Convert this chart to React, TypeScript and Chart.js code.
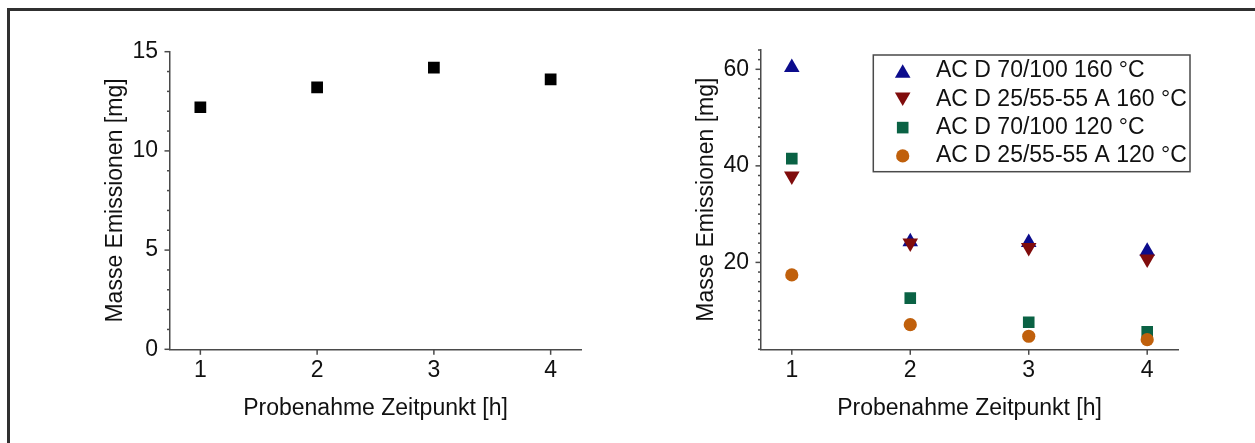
import React, { useEffect, useRef } from 'react';
import { Chart, registerables } from 'chart.js';
import { drawPoint } from 'chart.js/helpers';

Chart.register(...registerables);

// Sampling times [h]
const hours = [1, 2, 3, 4];
const hourTicks = [1, 2, 3, 4];

// Left panel: total emitted mass per sampling time [mg]
const totalMass = [12.2, 13.2, 14.2, 13.6];
const totalMassTicks = [0, 5, 10, 15];

// Right panel: emitted mass per binder / temperature [mg]
const seriesLabels = [
  'AC D 70/100 160 °C',
  'AC D 25/55-55 A 160 °C',
  'AC D 70/100 120 °C',
  'AC D 25/55-55 A 120 °C',
];
const ac70100at160 = [60.4, 24.3, 24.1, 22.3];
const ac2555at160 = [37.9, 24.0, 23.1, 20.7];
const ac70100at120 = [41.5, 12.6, 7.6, 5.6];
const ac2555at120 = [17.4, 7.1, 4.7, 4.0];
const binderMassTicks = [20, 40, 60];

const FONT = '"Liberation Sans", Arial, Helvetica, sans-serif';
const TEXT = '#111111';
const AXIS = '#4a4a4a';
const FONT_SIZE = 23;

Chart.defaults.font.family = FONT;
Chart.defaults.color = TEXT;

const toPoints = (vals: number[]) => hours.map((h, i) => ({ x: h, y: vals[i] }));

// Tick marks drawn outside the axes: long ones at labelled values, short ones between.
const tickMarks = {
  id: 'tickMarks',
  afterDraw(chart: any, _args: any, opts: any) {
    const { ctx, chartArea } = chart;
    const xs = chart.scales.x;
    const ys = chart.scales.y;
    ctx.save();
    ctx.strokeStyle = AXIS;
    ctx.lineWidth = 1.5;
    const step = opts.yMinorStep;
    const start = Math.ceil(ys.min / step - 1e-9) * step;
    for (let v = start; v <= ys.max + 1e-9; v += step) {
      const major = opts.yMajor.some((m: number) => Math.abs(m - v) < 1e-6);
      const len = major ? 5.5 : 3;
      const p = ys.getPixelForValue(v);
      ctx.beginPath();
      ctx.moveTo(chartArea.left - len, p);
      ctx.lineTo(chartArea.left, p);
      ctx.stroke();
    }
    for (const v of opts.xMajor) {
      const p = xs.getPixelForValue(v);
      ctx.beginPath();
      ctx.moveTo(p, chartArea.bottom);
      ctx.lineTo(p, chartArea.bottom + 5.5);
      ctx.stroke();
    }
    ctx.restore();
  },
};

// Framed legend listing each dataset's marker and label.
const boxLegend = {
  id: 'boxLegend',
  afterDraw(chart: any, _args: any, opts: any) {
    if (!opts.show) return;
    const { ctx } = chart;
    ctx.save();
    ctx.strokeStyle = AXIS;
    ctx.lineWidth = 1.5;
    ctx.strokeRect(opts.left, opts.top, opts.width, opts.height);
    chart.data.datasets.forEach((ds: any, i: number) => {
      const y = opts.firstRow + i * opts.rowGap;
      const r = ds.pointRadius;
      let cy = y;
      if (ds.pointStyle === 'triangle') cy = ds.pointRotation ? y - r / 4 : y + r / 4;
      ctx.fillStyle = ds.pointBackgroundColor;
      drawPoint(ctx, { pointStyle: ds.pointStyle, radius: r, rotation: ds.pointRotation || 0, borderWidth: 0 } as any, opts.markerX, cy);
      ctx.fillStyle = TEXT;
      ctx.font = `${FONT_SIZE}px ${FONT}`;
      ctx.textAlign = 'left';
      ctx.textBaseline = 'middle';
      ctx.fillText(ds.label, opts.textX, y);
    });
    ctx.restore();
  },
};

function axes(yMin: number, yMax: number, yTicks: number[], yWidth: number, yTitlePad: number) {
  return {
    x: {
      type: 'linear',
      min: 0.74,
      max: 4.26,
      afterBuildTicks: (s: any) => {
        s.ticks = hourTicks.map((v) => ({ value: v }));
      },
      afterFit: (s: any) => {
        s.height = 93.7;
      },
      grid: { display: false, drawTicks: false },
      border: { display: true, color: AXIS, width: 1.5 },
      ticks: { padding: 8, color: TEXT, font: { size: FONT_SIZE }, maxRotation: 0 },
      title: {
        display: true,
        text: 'Probenahme Zeitpunkt [h]',
        color: TEXT,
        font: { size: FONT_SIZE },
        padding: { top: 0, bottom: 21 },
      },
    },
    y: {
      type: 'linear',
      min: yMin,
      max: yMax,
      afterBuildTicks: (s: any) => {
        s.ticks = yTicks.map((v) => ({ value: v }));
      },
      afterFit: (s: any) => {
        s.width = yWidth;
      },
      grid: { display: false, drawTicks: false },
      border: { display: true, color: AXIS, width: 1.5 },
      ticks: { padding: 12, color: TEXT, font: { size: FONT_SIZE } },
      title: {
        display: true,
        text: 'Masse Emissionen [mg]',
        color: TEXT,
        font: { size: FONT_SIZE },
        padding: { top: yTitlePad, bottom: 0 },
      },
    },
  };
}

export default function App() {
  const leftRef = useRef<HTMLCanvasElement>(null);
  const rightRef = useRef<HTMLCanvasElement>(null);

  useEffect(() => {
    const left = new Chart(leftRef.current as HTMLCanvasElement, {
      type: 'scatter',
      data: {
        datasets: [
          {
            label: 'Masse Emissionen',
            data: toPoints(totalMass),
            pointStyle: 'rect',
            pointRadius: 8.3,
            pointBackgroundColor: '#000000',
            pointBorderWidth: 0,
            showLine: false,
          },
        ],
      },
      options: {
        responsive: false,
        animation: false,
        events: [],
        layout: { padding: { left: 100, top: 51.7, right: 39, bottom: 0 } },
        scales: axes(0, 15, totalMassTicks, 70, 1.7) as any,
        plugins: {
          legend: { display: false },
          tooltip: { enabled: false },
          tickMarks: { yMinorStep: 1, yMajor: totalMassTicks, xMajor: hourTicks },
          boxLegend: { show: false },
        } as any,
      },
      plugins: [tickMarks, boxLegend],
    });

    const styles = [
      { style: 'triangle', rot: 0, r: 9, color: '#0c0c8c', order: 3, vals: ac70100at160 },
      { style: 'triangle', rot: 180, r: 9, color: '#800c0c', order: 2, vals: ac2555at160 },
      { style: 'rect', rot: 0, r: 8.2, color: '#0a6244', order: 1, vals: ac70100at120 },
      { style: 'circle', rot: 0, r: 6.6, color: '#c0600c', order: 0, vals: ac2555at120 },
    ];

    const right = new Chart(rightRef.current as HTMLCanvasElement, {
      type: 'scatter',
      data: {
        datasets: styles.map((s, i) => ({
          label: seriesLabels[i],
          data: toPoints(s.vals),
          pointStyle: s.style,
          pointRotation: s.rot,
          pointRadius: s.r,
          pointBackgroundColor: s.color,
          pointBorderWidth: 0,
          showLine: false,
          order: s.order,
        })) as any,
      },
      options: {
        responsive: false,
        animation: false,
        events: [],
        layout: { padding: { left: 72, top: 50, right: 77, bottom: 0 } },
        scales: axes(2, 64, binderMassTicks, 69, 1.2) as any,
        plugins: {
          legend: { display: false },
          tooltip: { enabled: false },
          tickMarks: { yMinorStep: 2, yMajor: binderMassTicks, xMajor: hourTicks },
          boxLegend: {
            show: true,
            left: 253.3,
            top: 55,
            width: 316.7,
            height: 116.7,
            markerX: 282.7,
            textX: 316,
            firstRow: 71,
            rowGap: 28.3,
          },
        } as any,
      },
      plugins: [tickMarks, boxLegend],
    });

    return () => {
      left.destroy();
      right.destroy();
    };
  }, []);

  return (
    <div
      style={{
        position: 'absolute',
        left: 0,
        top: 0,
        width: 1255,
        height: 443,
        overflow: 'hidden',
        background: '#ffffff',
      }}
    >
      <div
        style={{
          position: 'absolute',
          left: 7,
          top: 8,
          width: 1400,
          height: 600,
          borderLeft: '3px solid #303030',
          borderTop: '3px solid #303030',
        }}
      />
      <canvas ref={leftRef} width={620} height={443} style={{ position: 'absolute', left: 0, top: 0 }} />
      <canvas ref={rightRef} width={635} height={443} style={{ position: 'absolute', left: 620, top: 0 }} />
    </div>
  );
}
